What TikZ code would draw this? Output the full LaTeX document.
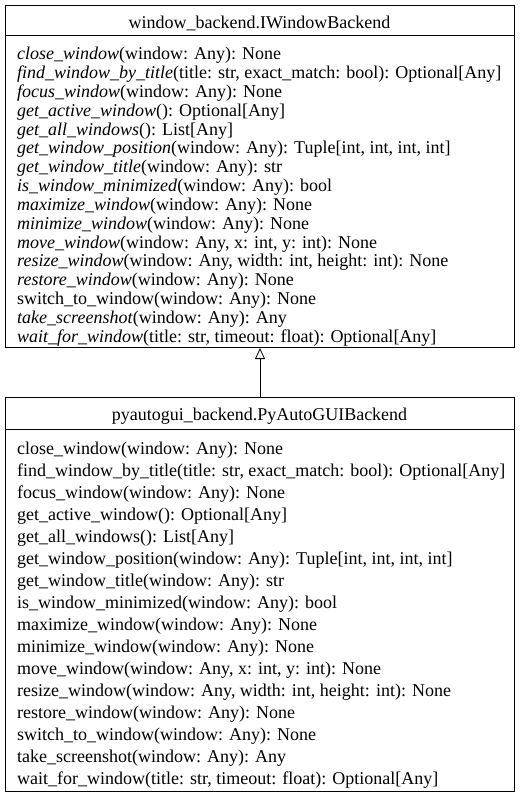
\documentclass[tikz,border=0pt]{standalone}
\usepackage{fontspec}
\setmainfont{Liberation Serif}
\newfontfamily\umlfont{Liberation Serif}
\usetikzlibrary{arrows.meta}
\tikzset{
  umlbox/.style={draw, line width=1pt, rectangle, inner sep=0pt, anchor=north west},
  member/.style={anchor=base west, yshift=-7pt, inner sep=0pt, font=\umlfont\fontsize{18}{18}\selectfont},
  umltitle/.style={anchor=base, yshift=-7pt, inner sep=0pt, font=\umlfont\fontsize{18}{18}\selectfont},
  sepline/.style={line width=1pt},
  inherit/.style={line width=0.8pt, -{Triangle[open, length=11pt, width=10pt, line width=0.8pt]}}
}
\newcommand\umlrow[3]{\node[member] (#1) at (17,#2) {#3};}
\begin{document}
\begin{tikzpicture}[x=1pt, y=-1pt]
\useasboundingbox (0,0) rectangle (519,799);
% interface box
\node[umlbox, minimum width=509pt, minimum height=342pt] (iface) at (5,5) {};
\node[umltitle] (ifacetitle) at (259.5,22) {window\_backend.IWindowBackend};
\draw[sepline] ([yshift=-31pt]iface.north west) -- ([yshift=-31pt]iface.north east);
\umlrow{i1}{53}{\textit{close\_window}(window: Any): None}
\umlrow{i2}{71.8}{\textit{find\_window\_by\_title}(title: str, exact\_match: bool): Optional[Any]}
\umlrow{i3}{90.6}{\textit{focus\_window}(window: Any): None}
\umlrow{i4}{109.4}{\textit{get\_active\_window}(): Optional[Any]}
\umlrow{i5}{128.2}{\textit{get\_all\_windows}(): List[Any]}
\umlrow{i6}{147}{\textit{get\_window\_position}(window: Any): Tuple[int, int, int, int]}
\umlrow{i7}{165.8}{\textit{get\_window\_title}(window: Any): str}
\umlrow{i8}{184.6}{\textit{is\_window\_minimized}(window: Any): bool}
\umlrow{i9}{203.4}{\textit{maximize\_window}(window: Any): None}
\umlrow{i10}{222.2}{\textit{minimize\_window}(window: Any): None}
\umlrow{i11}{241}{\textit{move\_window}(window: Any, x: int, y: int): None}
\umlrow{i12}{259.8}{\textit{resize\_window}(window: Any, width: int, height: int): None}
\umlrow{i13}{278.6}{\textit{restore\_window}(window: Any): None}
\umlrow{i14}{297.4}{switch\_to\_window(window: Any): None}
\umlrow{i15}{316.2}{\textit{take\_screenshot}(window: Any): Any}
\umlrow{i16}{335}{\textit{wait\_for\_window}(title: str, timeout: float): Optional[Any]}
% implementation box
\node[umlbox, minimum width=509pt, minimum height=394pt] (impl) at (5,397) {};
\node[umltitle] (impltitle) at (259.5,413) {pyautogui\_backend.PyAutoGUIBackend};
\draw[sepline] ([yshift=-32pt]impl.north west) -- ([yshift=-32pt]impl.north east);
\umlrow{p1}{447}{close\_window(window: Any): None}
\umlrow{p2}{469}{find\_window\_by\_title(title: str, exact\_match: bool): Optional[Any]}
\umlrow{p3}{491}{focus\_window(window: Any): None}
\umlrow{p4}{513}{get\_active\_window(): Optional[Any]}
\umlrow{p5}{535}{get\_all\_windows(): List[Any]}
\umlrow{p6}{557}{get\_window\_position(window: Any): Tuple[int, int, int, int]}
\umlrow{p7}{579}{get\_window\_title(window: Any): str}
\umlrow{p8}{601}{is\_window\_minimized(window: Any): bool}
\umlrow{p9}{623}{maximize\_window(window: Any): None}
\umlrow{p10}{645}{minimize\_window(window: Any): None}
\umlrow{p11}{667}{move\_window(window: Any, x: int, y: int): None}
\umlrow{p12}{689}{resize\_window(window: Any, width: int, height: int): None}
\umlrow{p13}{711}{restore\_window(window: Any): None}
\umlrow{p14}{733}{switch\_to\_window(window: Any): None}
\umlrow{p15}{755}{take\_screenshot(window: Any): Any}
\umlrow{p16}{777}{wait\_for\_window(title: str, timeout: float): Optional[Any]}
% inheritance
\draw[inherit] (impl.north) -- (iface.south);
\end{tikzpicture}
\end{document}
